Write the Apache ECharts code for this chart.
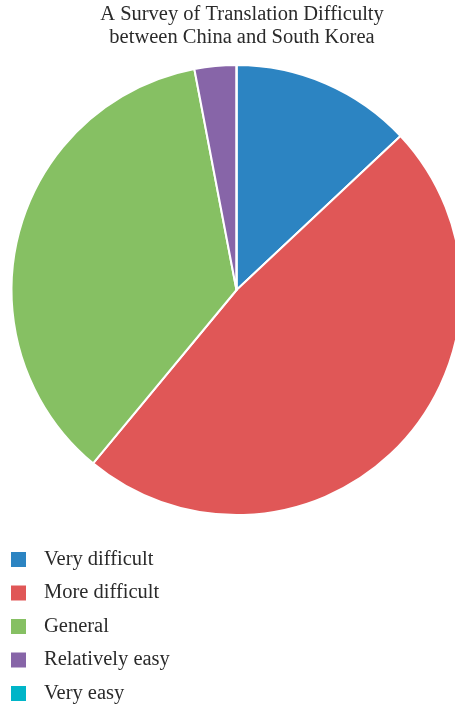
<!DOCTYPE html>
<html>
<head>
<meta charset="utf-8">
<script src="https://cdn.jsdelivr.net/npm/echarts@6/dist/echarts.min.js"></script>
<style>
  html, body { margin: 0; padding: 0; background: #ffffff; }
  #chart { width: 455px; height: 705px; }
</style>
</head>
<body>
<div id="chart"></div>
<script>
// Survey answers (percent of respondents)
const categories = ['Very difficult', 'More difficult', 'General', 'Relatively easy', 'Very easy'];
const shares = [13, 48, 36, 3, 0];
const colors = ['#2c84c2', '#e05757', '#86c063', '#8765a8', '#00b5c8'];

const chart = echarts.init(document.getElementById('chart'), null, { renderer: 'canvas' });

const fontFamily = '"Liberation Serif", "DejaVu Serif", serif';

chart.setOption({
  animation: false,
  color: colors,
  title: {
    text: 'A Survey of Translation Difficulty\nbetween China and South Korea',
    left: 242,
    textAlign: 'center',
    top: 3,
    padding: 0,
    textStyle: {
      fontFamily: fontFamily,
      fontWeight: 'normal',
      fontSize: 20.5,
      lineHeight: 23,
      color: '#2a2a2a'
    }
  },
  legend: {
    orient: 'vertical',
    left: 11,
    top: 549,
    height: 300,
    padding: 0,
    icon: 'rect',
    itemWidth: 15,
    itemHeight: 15,
    itemGap: 12.5,
    selectedMode: false,
    itemStyle: { borderWidth: 0 },
    data: categories,
    textStyle: {
      fontFamily: fontFamily,
      fontSize: 20.5,
      color: '#2a2a2a',
      padding: [0, 0, 0, 13]
    }
  },
  series: [{
    type: 'pie',
    center: [236.5, 290],
    radius: 225,
    startAngle: 90,
    clockwise: true,
    avoidLabelOverlap: false,
    label: { show: false },
    labelLine: { show: false },
    emphasis: { disabled: true },
    itemStyle: { borderColor: '#ffffff', borderWidth: 2 },
    data: categories.map((name, i) => ({ name: name, value: shares[i] }))
  }]
});
</script>
</body>
</html>
